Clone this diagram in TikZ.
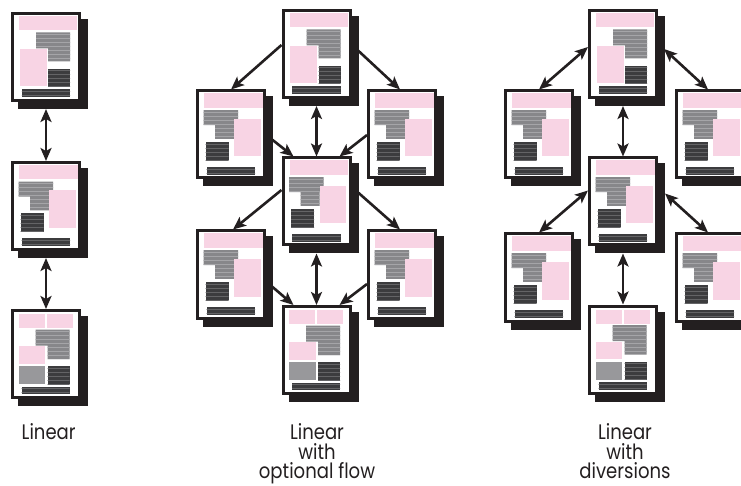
\documentclass[tikz,border=0pt]{standalone}
\usepackage{fontspec}
\setmainfont{Poppins}[FakeStretch=0.86]
\usetikzlibrary{arrows.meta,calc}
\definecolor{pinkc}{RGB}{248,212,228}
\definecolor{midg}{RGB}{135,135,138}
\definecolor{midl}{RGB}{165,165,168}
\definecolor{darkg}{RGB}{60,60,62}
\definecolor{darkl}{RGB}{100,100,102}
\definecolor{solidg}{RGB}{152,152,155}
\definecolor{ink}{RGB}{35,31,32}

\newcommand\pgstripe[5]{%
  \fill[#1] #5;
  \begin{scope}
    \clip #5;
    \foreach \k in {0,...,#4} \draw[#2,line width=0.8pt] (0,{#3+2+4*\k}) -- (80,{#3+2+4*\k});
  \end{scope}}

\newcommand\contentA{%
  \fill[pinkc] (8,4.5) rectangle (66,18.3);
  \pgstripe{midg}{midl}{20.5}{7}{(25,20.5)--(59,20.5)--(59,49.5)--(37,49.5)--(37,36.5)--(25,36.5)--cycle}
  \fill[pinkc] (8.5,37.2) rectangle (35.5,74.5);
  \pgstripe{darkg}{darkl}{56.8}{4}{(37,56.8) rectangle (59,74.5)}
  \pgstripe{darkg}{darkl}{77.2}{1}{(10.8,77.2) rectangle (59,85)}
}
\newcommand\contentB{%
  \fill[pinkc] (8,4) rectangle (66.5,18.3);
  \pgstripe{midg}{midl}{20.7}{7}{(7.5,20.7)--(42,20.7)--(42,35.7)--(38,35.7)--(38,49.3)--(19,49.3)--(19,35.7)--(7.5,35.7)--cycle}
  \fill[pinkc] (38,29.5) rectangle (64.5,67);
  \pgstripe{darkg}{darkl}{52.5}{4}{(9.7,52.5) rectangle (32.5,70.7)}
  \pgstripe{darkg}{darkl}{77.5}{1}{(10.5,77.5) rectangle (59,85.5)}
}
\newcommand\contentC{%
  \fill[pinkc] (7.5,5) rectangle (33.5,19);
  \fill[pinkc] (35.5,5) rectangle (61.5,19);
  \pgstripe{midg}{midl}{20.5}{7}{(24.5,20.5)--(58.5,20.5)--(58.5,50)--(36.5,50)--(36.5,36.7)--(24.5,36.7)--cycle}
  \fill[pinkc] (7.7,37) rectangle (34.3,54.5);
  \fill[solidg] (7.7,57) rectangle (34.3,75);
  \pgstripe{darkg}{darkl}{57}{4}{(36.5,57) rectangle (58.5,75)}
  \pgstripe{darkg}{darkl}{77.7}{1}{(10.7,77.7) rectangle (58.5,85.3)}
}

% #1 content macro, #2 node name, #3 x centre, #4 y centre
\newcommand\pagebox[4]{%
  \fill[ink] (#3-28,#4-38) rectangle (#3+42,#4+52);
  \node[pg] (#2) at (#3,#4) {};
  \begin{scope}[shift={(#3-35,#4-45)}]#1\end{scope}
  \draw[ink, line width=3pt] (#3-33.5,#4-43.5) rectangle (#3+33.5,#4+43.5);}

\tikzset{
  pg/.style={draw=ink, line width=3pt, fill=white, minimum width=67pt, minimum height=87pt, inner sep=0pt},
  tipk/.tip={Stealth[length=13pt,width=11pt,inset=3pt]},
  arr/.style={draw=ink, line width=2.6pt, -tipk},
  darr/.style={draw=ink, line width=2.6pt, tipk-tipk},
  lab/.style={font=\fontsize{21}{25}\selectfont, text=ink, inner sep=0pt, anchor=base},
}

\begin{document}
\begin{tikzpicture}[x=1pt,y=-1pt]
\useasboundingbox (0,0) rectangle (741,486);
\clip (0,0) rectangle (741,486);

% Linear
\pagebox{\contentA}{L1}{46}{57}
\pagebox{\contentB}{L2}{46}{206}
\pagebox{\contentC}{L3}{46}{354}

% Linear with optional flow
\pagebox{\contentA}{Mt}{316.5}{54}
\pagebox{\contentB}{Ml}{231}{134.5}
\pagebox{\contentB}{Mr}{402}{134.5}
\pagebox{\contentB}{Mc}{316.5}{201.5}
\pagebox{\contentB}{Mll}{231}{274.5}
\pagebox{\contentB}{Mlr}{402}{274.5}
\pagebox{\contentC}{Mb}{316.5}{350}

% Linear with diversions
\pagebox{\contentA}{Rt}{623}{54}
\pagebox{\contentB}{Rl}{539}{134.5}
\pagebox{\contentB}{Rr}{710}{134.5}
\pagebox{\contentB}{Rc}{623}{201.5}
\pagebox{\contentB}{Rll}{539}{277.5}
\pagebox{\contentB}{Rlr}{710}{277.5}
\pagebox{\contentC}{Rb}{623}{349.5}

% arrows: linear
\draw[darr] ($(L1.south)+(0,7)$) -- (L2.north);
\draw[darr] ($(L2.south)+(0,7)$) -- (L3.north);

% arrows: optional flow
\draw[arr] ($(Mt.north west)+(0,36)$) -- (Ml.north);
\draw[arr] ($(Mt.north east)+(6,41)$) -- ($(Mr.north)+(-2,0)$);
\draw[darr] ($(Mt.south)+(0,7)$) -- (Mc.north);
\draw[arr] ($(Ml.north east)+(6,50)$) -- ($(Mc.north west)+(12,0)$);
\draw[arr] ($(Mr.north west)+(0,45.5)$) -- ($(Mc.north east)+(-12,0)$);
\draw[arr] ($(Mc.north west)+(0,33.5)$) -- ($(Mll.north)+(2,0)$);
\draw[arr] ($(Mc.north east)+(6,35.5)$) -- ($(Mlr.north)+(-2,0)$);
\draw[darr] ($(Mc.south)+(0,7)$) -- (Mb.north);
\draw[arr] ($(Mll.north east)+(6,57)$) -- ($(Mb.north west)+(12,0)$);
\draw[arr] ($(Mlr.north west)+(0,54.5)$) -- ($(Mb.north east)+(-12,0)$);

% arrows: diversions
\draw[darr] ($(Rt.north west)+(0,38)$) -- (Rl.north);
\draw[darr] ($(Rt.north east)+(6,40)$) -- ($(Rr.north)+(-2,0)$);
\draw[darr] ($(Rt.south)+(0,7)$) -- (Rc.north);
\draw[darr] ($(Rc.north west)+(0,34)$) -- (Rll.north);
\draw[darr] ($(Rc.north east)+(7,37)$) -- ($(Rlr.north)+(-2,0)$);
\draw[darr] ($(Rc.south)+(0,7)$) -- (Rb.north);

% labels
\node[lab] (t1) at (48.7,439.5) {Linear};
\node[lab] (t2a) at (317,439.5) {Linear};
\node[lab] (t2b) at (317,459) {with};
\node[lab] (t2c) at (317,478) {optional flow};
\node[lab] (t3a) at (625,439.5) {Linear};
\node[lab] (t3b) at (625,459) {with};
\node[lab] (t3c) at (625,478) {diversions};
\end{tikzpicture}
\end{document}
